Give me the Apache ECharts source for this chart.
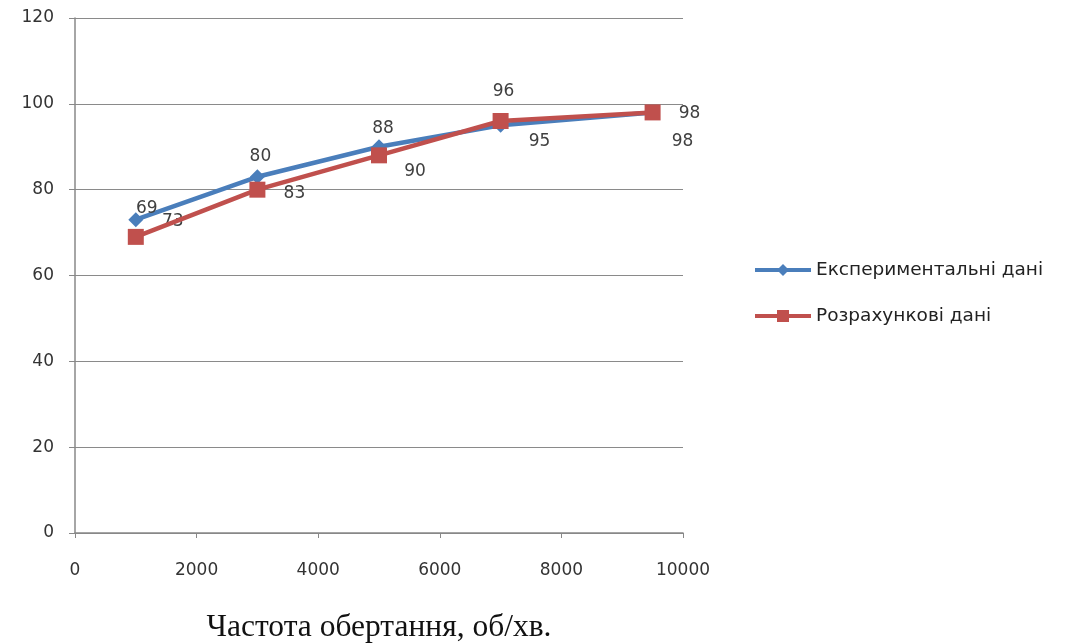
<!DOCTYPE html>
<html>
<head>
<meta charset="utf-8">
<script src="https://cdn.jsdelivr.net/npm/echarts@6/dist/echarts.min.js"></script>
<style>
  html, body { margin: 0; padding: 0; background: #ffffff; }
  #chart { width: 1066px; height: 644px; }
</style>
</head>
<body>
<div id="chart"></div>
<script>
// Rotation speed, rpm
const speeds = [1000, 3000, 5000, 7000, 9500];
// Measured values
const experimental = [73, 83, 90, 95, 98];
// Calculated values
const calculated = [69, 80, 88, 96, 98];
const seriesNames = ['Експериментальні дані', 'Розрахункові дані'];
const xTicks = [0, 2000, 4000, 6000, 8000, 10000];
const yTicks = [0, 20, 40, 60, 80, 100, 120];

// Value labels sit beside their points, nudged apart so the two series don't collide
const expLabelShift = [[37, 2], [37, 17], [36, 25], [39, 16], [30, 29]];
const calcLabelShift = [[11, -28], [3, -33], [4, -27], [3, -29], [37, 1]];

const labelFont = { fontFamily: 'DejaVu Sans', fontSize: 17, color: '#404040' };

function points(values, shifts) {
  return speeds.map((s, i) => ({
    value: [s, values[i]],
    label: { show: true, position: 'inside', offset: shifts[i], ...labelFont }
  }));
}

const chart = echarts.init(document.getElementById('chart'), null, { renderer: 'canvas' });
chart.setOption({
  animation: false,
  backgroundColor: '#ffffff',
  grid: { left: 75, right: 383, top: 18, bottom: 111, containLabel: false, outerBoundsMode: 'none' },
  legend: {
    orient: 'vertical',
    left: 753,
    top: 260,
    padding: 0,
    itemGap: 26,
    itemWidth: 56,
    itemHeight: 15,
    lineStyle: { width: 4 },
    textStyle: { fontFamily: 'DejaVu Sans', fontSize: 18.5, lineHeight: 20, color: '#222' },
    data: seriesNames
  },
  xAxis: {
    type: 'value',
    min: xTicks[0],
    max: xTicks[xTicks.length - 1],
    interval: xTicks[1] - xTicks[0],
    name: 'Частота обертання, об/хв.',
    nameLocation: 'middle',
    nameGap: 79,
    nameTextStyle: { fontFamily: 'Liberation Serif', fontSize: 31.5, color: '#111' },
    axisLine: { lineStyle: { color: '#888', width: 1.5 } },
    axisTick: { show: true, length: 5, lineStyle: { color: '#888' } },
    axisLabel: {
      margin: 29,
      fontFamily: 'DejaVu Sans',
      fontSize: 17,
      color: '#333',
      formatter: v => String(v)
    },
    splitLine: { show: false }
  },
  yAxis: {
    type: 'value',
    min: yTicks[0],
    max: yTicks[yTicks.length - 1],
    interval: yTicks[1] - yTicks[0],
    axisLine: { show: true, lineStyle: { color: '#888', width: 1.5 } },
    axisTick: { show: true, length: 6, lineStyle: { color: '#888' } },
    axisLabel: { margin: 21, fontFamily: 'DejaVu Sans', fontSize: 17, color: '#333' },
    splitLine: { show: true, lineStyle: { color: '#8a8a8a', width: 1.2 } }
  },
  series: [
    {
      name: seriesNames[0],
      type: 'line',
      data: points(experimental, expLabelShift),
      symbol: 'diamond',
      symbolSize: 15,
      lineStyle: { color: '#4a7ebb', width: 4.5 },
      itemStyle: { color: '#4a7ebb' },
      z: 2
    },
    {
      name: seriesNames[1],
      type: 'line',
      data: points(calculated, calcLabelShift),
      symbol: 'rect',
      symbolSize: 16,
      lineStyle: { color: '#c0504d', width: 4.5 },
      itemStyle: { color: '#c0504d' },
      z: 3
    }
  ]
});
</script>
</body>
</html>
